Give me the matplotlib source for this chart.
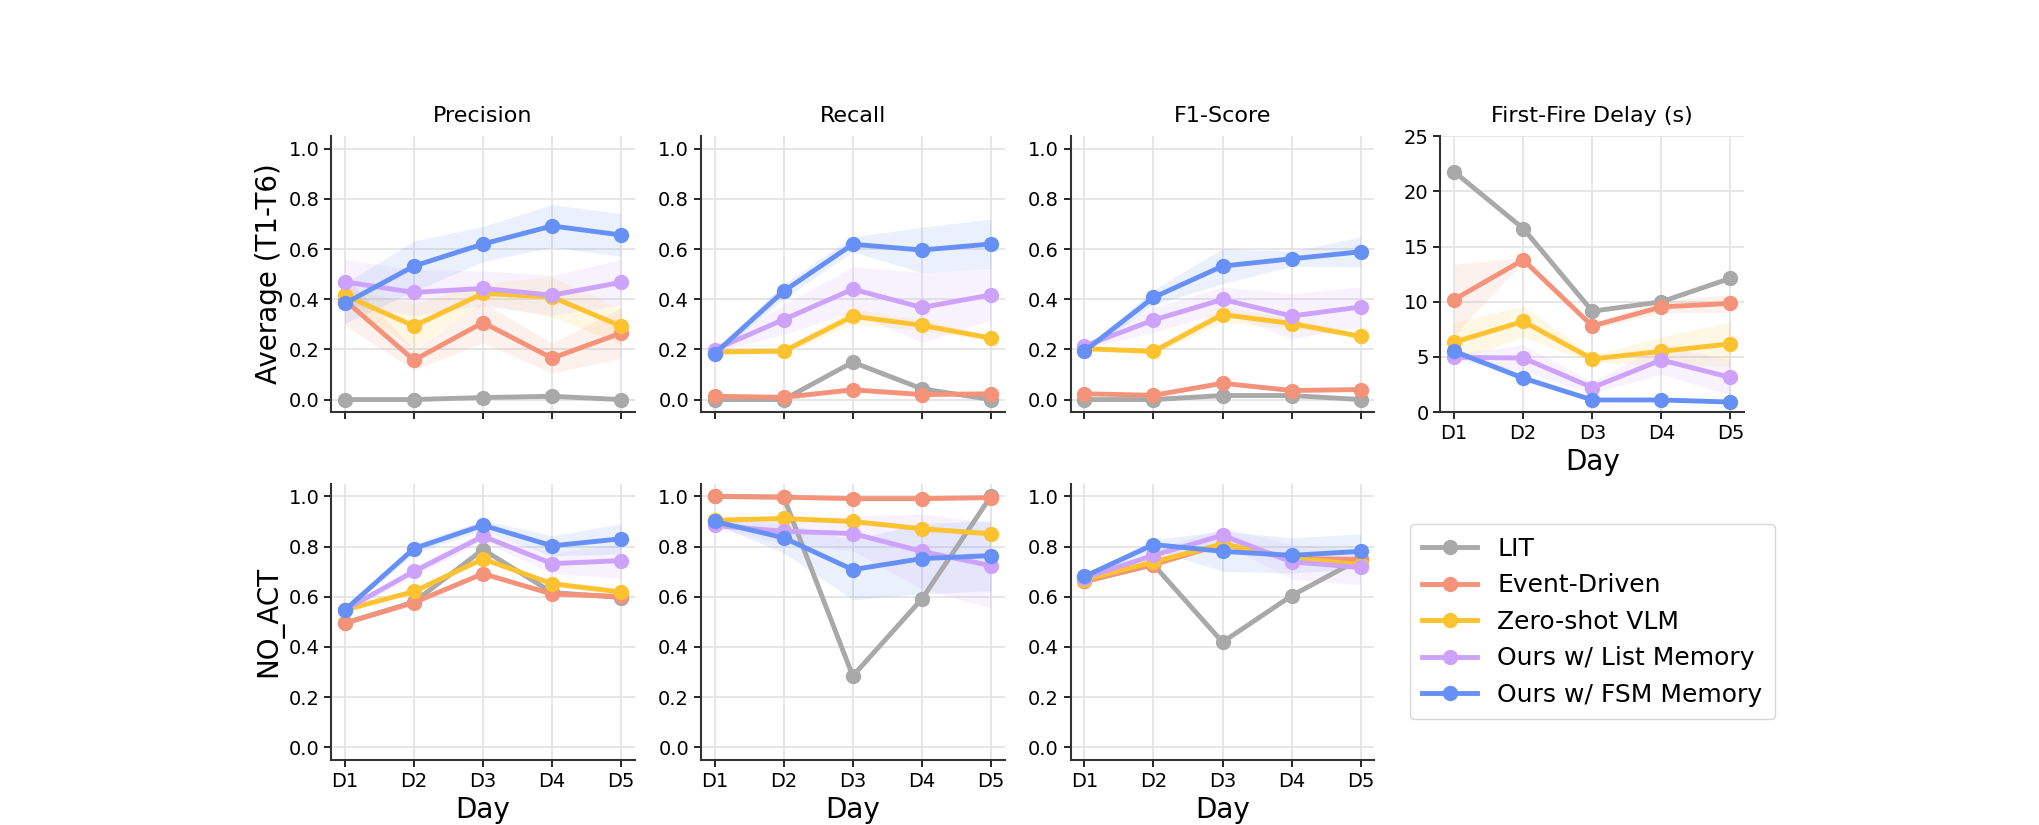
import numpy as np
import matplotlib
matplotlib.use("Agg")
import matplotlib.pyplot as plt

days = ["D1", "D2", "D3", "D4", "D5"]
methods = ["LIT", "Event-Driven", "Zero-shot VLM", "Ours w/ List Memory", "Ours w/ FSM Memory"]
colors = ["#a9a9a9", "#f4937a", "#fcc22f", "#cda2fb", "#6690f5"]

# Average (T1-T6) row: mean values per method (order as in `methods`)
avg_precision = [
    [0.0, 0.0, 0.008, 0.013, 0.0],
    [0.396, 0.157, 0.307, 0.165, 0.265],
    [0.416, 0.293, 0.423, 0.409, 0.292],
    [0.469, 0.427, 0.443, 0.416, 0.467],
    [0.383, 0.532, 0.620, 0.692, 0.656],
]
avg_precision_std = [
    [0, 0, 0, 0, 0],
    [0.10, 0.04, 0.08, 0.06, 0.10],
    [0.03, 0.09, 0.04, 0.08, 0.07],
    [0.09, 0.09, 0.07, 0.08, 0.09],
    [0.08, 0.10, 0.07, 0.085, 0.085],
]
avg_recall = [
    [0.0, 0.0, 0.149, 0.043, 0.0],
    [0.013, 0.009, 0.039, 0.020, 0.023],
    [0.190, 0.193, 0.332, 0.296, 0.245],
    [0.199, 0.319, 0.440, 0.367, 0.417],
    [0.183, 0.432, 0.619, 0.596, 0.620],
]
avg_recall_std = [
    [0, 0, 0, 0, 0],
    [0.01, 0.01, 0.01, 0.01, 0.01],
    [0.01, 0.01, 0.03, 0.02, 0.01],
    [0.01, 0.06, 0.09, 0.14, 0.10],
    [0.01, 0.03, 0.03, 0.09, 0.10],
]
avg_f1 = [
    [0.0, 0.0, 0.016, 0.016, 0.0],
    [0.023, 0.017, 0.065, 0.036, 0.040],
    [0.203, 0.192, 0.339, 0.303, 0.252],
    [0.213, 0.317, 0.399, 0.333, 0.369],
    [0.193, 0.407, 0.532, 0.561, 0.589],
]
avg_f1_std = [
    [0, 0, 0, 0, 0],
    [0.005, 0.005, 0.01, 0.005, 0.005],
    [0.01, 0.01, 0.03, 0.02, 0.01],
    [0.01, 0.05, 0.05, 0.09, 0.08],
    [0.01, 0.03, 0.07, 0.03, 0.06],
]
avg_delay = [
    [21.77, 16.63, 9.14, 9.99, 12.12],
    [10.2, 13.79, 7.8, 9.53, 9.84],
    [6.33, 8.22, 4.81, 5.51, 6.18],
    [4.96, 4.90, 2.22, 4.72, 3.14],
    [5.51, 3.08, 1.10, 1.10, 0.91],
]
avg_delay_std = [
    [0, 0, 0, 0, 0],
    [3.2, 0.2, 0.3, 0.5, 0.8],
    [1.8, 1.4, 0.3, 1.3, 2.0],
    [0.3, 1.2, 0.5, 1.3, 1.6],
    [0.3, 0.3, 0.1, 0.1, 0.1],
]

# NO_ACT row
noact_precision = [
    [0.495, 0.579, 0.788, 0.617, 0.597],
    [0.495, 0.577, 0.692, 0.611, 0.601],
    [0.548, 0.621, 0.751, 0.652, 0.619],
    [0.548, 0.701, 0.841, 0.732, 0.744],
    [0.547, 0.792, 0.885, 0.803, 0.831],
]
noact_precision_std = [
    [0, 0, 0, 0, 0],
    [0.01, 0.01, 0.01, 0.01, 0.01],
    [0.01, 0.01, 0.01, 0.01, 0.01],
    [0.01, 0.02, 0.02, 0.04, 0.07],
    [0.01, 0.02, 0.02, 0.04, 0.06],
]
noact_recall = [
    [1.0, 0.997, 0.284, 0.591, 1.0],
    [1.0, 0.997, 0.991, 0.991, 0.995],
    [0.905, 0.912, 0.900, 0.871, 0.851],
    [0.884, 0.861, 0.852, 0.781, 0.724],
    [0.900, 0.835, 0.708, 0.752, 0.764],
]
noact_recall_std = [
    [0, 0, 0, 0, 0],
    [0.0, 0.0, 0.0, 0.0, 0.0],
    [0.01, 0.01, 0.01, 0.01, 0.01],
    [0.01, 0.05, 0.07, 0.15, 0.17],
    [0.01, 0.06, 0.12, 0.14, 0.14],
]
noact_f1 = [
    [0.661, 0.728, 0.419, 0.604, 0.752],
    [0.661, 0.728, 0.810, 0.752, 0.749],
    [0.667, 0.739, 0.810, 0.755, 0.728],
    [0.675, 0.765, 0.845, 0.739, 0.717],
    [0.681, 0.808, 0.781, 0.765, 0.781],
]
noact_f1_std = [
    [0, 0, 0, 0, 0],
    [0.005, 0.005, 0.01, 0.01, 0.01],
    [0.005, 0.01, 0.01, 0.01, 0.01],
    [0.01, 0.02, 0.03, 0.07, 0.07],
    [0.01, 0.02, 0.08, 0.07, 0.07],
]

panels = [
    (0, 0, "Precision", avg_precision, avg_precision_std),
    (0, 1, "Recall", avg_recall, avg_recall_std),
    (0, 2, "F1-Score", avg_f1, avg_f1_std),
    (0, 3, "First-Fire Delay (s)", avg_delay, avg_delay_std),
    (1, 0, None, noact_precision, noact_precision_std),
    (1, 1, None, noact_recall, noact_recall_std),
    (1, 2, None, noact_f1, noact_f1_std),
]

fig, axes = plt.subplots(2, 4, figsize=(20.4, 8.25), dpi=100)
fig.subplots_adjust(left=0.1623, right=0.855, top=0.835, bottom=0.079,
                    wspace=0.217, hspace=0.26)

x = np.arange(len(days))
for row, col, title, vals, stds in panels:
    ax = axes[row, col]
    for name, c, m, s in zip(methods, colors, vals, stds):
        m = np.array(m)
        s = np.array(s)
        ax.fill_between(x, m - s, m + s, color=c, alpha=0.13, linewidth=0)
        ax.plot(x, m, color=c, marker="o", lw=3.5, ms=10, label=name)
    ax.set_xlim(-0.2, 4.2)
    if col == 3:
        ax.set_ylim(0, 25)
        ax.set_yticks([0, 5, 10, 15, 20, 25])
    else:
        ax.set_ylim(-0.05, 1.05)
        ax.set_yticks([0.0, 0.2, 0.4, 0.6, 0.8, 1.0])
    ax.set_xticks(x)
    if row == 1 or col == 3:
        ax.set_xticklabels(days)
        ax.set_xlabel("Day", fontsize=20)
    else:
        ax.set_xticklabels([])
    ax.tick_params(labelsize=14, width=1.2, length=5)
    ax.grid(True, color="#e2e2e2", lw=1.2)
    ax.set_axisbelow(True)
    ax.spines["top"].set_visible(False)
    ax.spines["right"].set_visible(False)
    for sp in ("left", "bottom"):
        ax.spines[sp].set_linewidth(1.5)
        ax.spines[sp].set_color("#333333")
    if title:
        ax.set_title(title, fontsize=16, pad=10)

axes[0, 0].set_ylabel("Average (T1-T6)", fontsize=20)
axes[1, 0].set_ylabel("NO_ACT", fontsize=20)

handles, labels = axes[0, 0].get_legend_handles_labels()
axes[1, 3].axis("off")
axes[1, 3].legend(handles, labels, loc="center", fontsize=18, frameon=True,
                  edgecolor="#cccccc", borderpad=0.5, handlelength=2.2)

fig.savefig("out.png", dpi=100)
